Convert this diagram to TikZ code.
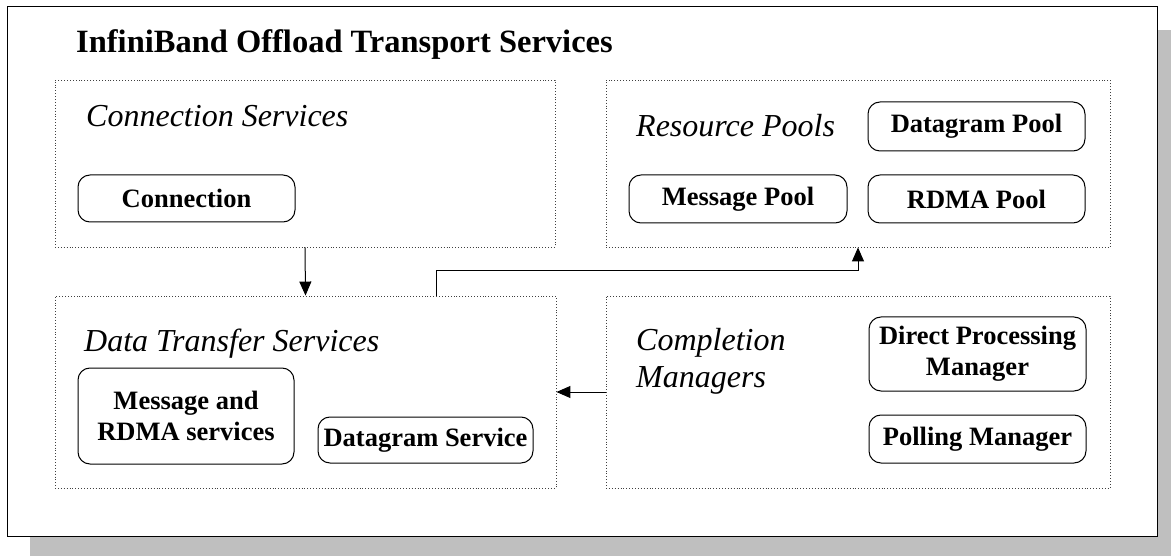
\documentclass[tikz,border=0pt]{standalone}
\usepackage{fontspec}
\setmainfont{Liberation Serif}
\usetikzlibrary{arrows.meta}
\begin{document}
\begin{tikzpicture}[x=1pt,y=-1pt,
  grp/.style={draw=black!75, dotted, line width=0.9pt, inner sep=0pt},
  rbox/.style={draw, rounded corners=12pt, line width=1pt, inner sep=0pt,
    font=\bfseries\fontsize{26.5}{31}\selectfont, align=center},
  hdr/.style={font=\itshape\fontsize{32}{37}\selectfont, anchor=west, inner sep=0pt, align=left},
  conn/.style={line width=1pt, -{Triangle[length=14pt,width=12pt]}}]
\useasboundingbox (0,0) rectangle (1171,556);
\fill[black!25] (30,30) rectangle (1180,560);
\node[draw, fill=white, line width=1pt, minimum width=1150pt, minimum height=529pt, inner sep=0pt] (outer) at (582,271.5) {};
\node[font=\bfseries\fontsize{32.5}{36}\selectfont, anchor=west, inner sep=0pt] (title) at (76,45) {InfiniBand Offload Transport Services};
% groups
\node[grp, minimum width=500pt, minimum height=167pt] (cs) at (305,163.5) {};
\node[grp, minimum width=504pt, minimum height=167pt] (rp) at (858,163.5) {};
\node[grp, minimum width=501pt, minimum height=192pt] (dt) at (305.5,392) {};
\node[grp, minimum width=504pt, minimum height=192pt] (cm) at (858,392) {};
% headers
\node[hdr] (csh) at (86,116) {Connection Services};
\node[hdr] (rph) at (636,126) {Resource Pools};
\node[hdr] (dth) at (84,344) {Data Transfer Services};
\node[hdr] (cmh) at (636,361) {Completion\\Managers};
% boxes
\node[rbox, minimum width=217pt, minimum height=47pt] (connb) at (186.5,198.5) {Connection};
\node[rbox, minimum width=218pt, minimum height=48pt] (msgpool) at (738,199) {Message Pool};
\node[rbox, minimum width=217pt, minimum height=48pt] (rdmapool) at (976.5,199) {RDMA Pool};
\node[rbox, minimum width=217pt, minimum height=49pt] (dgpool) at (976.5,126.5) {Datagram Pool};
\node[rbox, minimum width=216pt, minimum height=96pt] (msgrdma) at (186,416) {Message and\\RDMA services};
\node[rbox, minimum width=215pt, minimum height=46pt] (dgserv) at (425.5,440) {Datagram Service};
\node[rbox, minimum width=217pt, minimum height=74pt] (direct) at (977.5,354) {Direct Processing\\Manager};
\node[rbox, minimum width=217pt, minimum height=48pt] (polling) at (977.5,439) {Polling Manager};
% connectors
\draw[conn] (cs.south) -- (dt.north);
\draw[conn] ([xshift=131pt]dt.north) -- ++(0,-25) -| (rp.south);
\draw[conn] (cm.west) -- (dt.east);
\end{tikzpicture}
\end{document}
